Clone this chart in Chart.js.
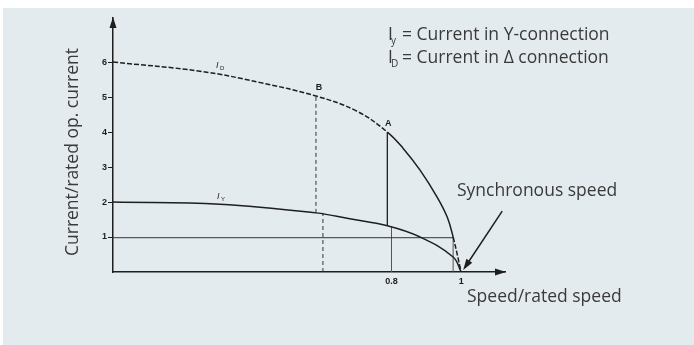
<!DOCTYPE html>
<html>
<head>
<meta charset="utf-8">
<script src="https://cdn.jsdelivr.net/npm/chart.js@4.4.1/dist/chart.umd.min.js"></script>
<style>
  html, body { margin: 0; padding: 0; background: #fff; }
  #wrap { width: 694px; height: 345px; position: relative; }
</style>
</head>
<body>
<div id="wrap"><canvas id="chart" width="694" height="345"></canvas></div>
<script>
// speed/rated speed vs current/rated operating current
const idSpeed   = [0, 0.25, 0.42, 0.583, 0.7, 0.788, 0.833, 0.882, 0.931, 0.96, 0.977, 1.0];
const idCurrent = [6.0, 5.74, 5.42, 5.03, 4.6, 4.0, 3.54, 2.91, 2.14, 1.57, 1.0, 0.0];
const iySpeed   = [0, 0.307, 0.583, 0.68, 0.788, 0.882, 0.977, 1.0];
const iyCurrent = [2.0, 1.94, 1.69, 1.52, 1.32, 1.0, 0.43, 0.0];
const yTicks = [1, 2, 3, 4, 5, 6];
const xTicks = [0.8, 1];
// index where I_D turns solid (point A) and where it turns dashed again
const idxA = 5, idxTail = 10;

// helper lines [x0, y0, x1, y1]
const lineRated  = [0, 0.98, 0.977, 0.98];
const lineSync   = [0.977, 0, 0.977, 1];
const lineA      = [0.788, 1.32, 0.788, 4.0];
const line08     = [0.8, 0, 0.8, 1.29];
const lineB      = [0.583, 1.69, 0.583, 5.03];
const lineB2     = [0.603, 0, 0.603, 1.69];
const syncArrow  = [1.118, 1.74, 1.006, 0.06];

const pts = (xs, ys) => xs.map((x, i) => ({ x: x, y: ys[i] }));
const seg = (l) => [{ x: l[0], y: l[1] }, { x: l[2], y: l[3] }];

const INK = '#1e1e1e';
const TXT = '#3a3a3a';
const SANS = '"Open Sans", "Noto Sans", sans-serif';

function helper(l, dash, color, width) {
  return {
    data: seg(l), borderColor: color, borderWidth: width, borderDash: dash,
    pointRadius: 0, tension: 0, fill: false
  };
}

const bgPlugin = {
  id: 'bg',
  beforeDraw(chart) {
    const c = chart.ctx;
    c.save();
    c.fillStyle = '#ffffff';
    c.fillRect(0, 0, chart.width, chart.height);
    c.fillStyle = '#e4ebee';
    c.fillRect(3, 8, chart.width - 3, chart.height - 8);
    c.restore();
  }
};

const decoPlugin = {
  id: 'deco',
  afterDraw(chart) {
    const c = chart.ctx;
    const xs = chart.scales.x, ys = chart.scales.y;
    const a = chart.chartArea;
    c.save();
    c.fillStyle = INK;
    // axis arrow heads
    c.beginPath();
    c.moveTo(a.left, a.top - 1);
    c.lineTo(a.left - 3.5, a.top + 10);
    c.lineTo(a.left + 3.5, a.top + 10);
    c.closePath();
    c.fill();
    c.beginPath();
    c.moveTo(a.right + 1, a.bottom);
    c.lineTo(a.right - 10, a.bottom - 3.5);
    c.lineTo(a.right - 10, a.bottom + 3.5);
    c.closePath();
    c.fill();

    // synchronous speed arrow
    const x0 = xs.getPixelForValue(syncArrow[0]), y0 = ys.getPixelForValue(syncArrow[1]);
    const x1 = xs.getPixelForValue(syncArrow[2]), y1 = ys.getPixelForValue(syncArrow[3]);
    const ang = Math.atan2(y1 - y0, x1 - x0);
    c.strokeStyle = INK;
    c.lineWidth = 1.5;
    c.beginPath();
    c.moveTo(x0, y0);
    c.lineTo(x1 - 8 * Math.cos(ang), y1 - 8 * Math.sin(ang));
    c.stroke();
    c.beginPath();
    c.moveTo(x1, y1);
    c.lineTo(x1 - 11 * Math.cos(ang) + 3.5 * Math.sin(ang), y1 - 11 * Math.sin(ang) - 3.5 * Math.cos(ang));
    c.lineTo(x1 - 11 * Math.cos(ang) - 3.5 * Math.sin(ang), y1 - 11 * Math.sin(ang) + 3.5 * Math.cos(ang));
    c.closePath();
    c.fill();

    // point labels A, B and curve names
    c.fillStyle = INK;
    c.textAlign = 'center';
    c.textBaseline = 'alphabetic';
    c.font = 'bold 9px "Liberation Sans", Arial, sans-serif';
    c.fillText('B', xs.getPixelForValue(lineB[0]) + 3, ys.getPixelForValue(lineB[3]) - 6);
    c.fillText('A', xs.getPixelForValue(lineA[0]) + 1, ys.getPixelForValue(lineA[3]) - 6);

    function curveName(sub, x, y) {
      c.textAlign = 'left';
      c.font = 'italic 9px "Liberation Sans", Arial, sans-serif';
      c.fillText('I', x, y);
      c.font = '6px "Liberation Sans", Arial, sans-serif';
      c.fillText(sub, x + 4, y + 2);
    }
    curveName('D', 216, 68);
    curveName('Y', 217, 199);

    // texts
    c.fillStyle = TXT;
    c.font = '17.5px ' + SANS;
    c.textAlign = 'left';
    c.fillText('Synchronous speed', 457, 196);
    c.fillText('Speed/rated speed', 467, 302);

    function legendLine(sub, text, y) {
      c.font = '17.5px ' + SANS;
      c.fillText('I', 388, y);
      c.font = '10px ' + SANS;
      c.fillText(sub, 391, y + 4);
      c.font = '17.5px ' + SANS;
      c.fillText(text, 402, y);
    }
    legendLine('y', '= Current in Y-connection', 40);
    legendLine('D', '= Current in \u0394 connection', 63);

    c.translate(78, 152);
    c.rotate(-Math.PI / 2);
    c.textAlign = 'center';
    c.font = '17.5px ' + SANS;
    c.fillText('Current/rated op. current', 0, 0);
    c.restore();
  }
};

const data = {
  datasets: [
    {
      label: 'I_D',
      data: pts(idSpeed, idCurrent),
      borderColor: INK, borderWidth: 1.5, pointRadius: 0, fill: false,
      tension: 0.4,
      segment: {
        borderDash: ctx => (ctx.p0DataIndex < idxA || ctx.p0DataIndex >= idxTail) ? [5, 2] : []
      }
    },
    {
      label: 'I_Y',
      data: pts(iySpeed, iyCurrent),
      borderColor: INK, borderWidth: 1.5, pointRadius: 0, fill: false,
      tension: 0.4
    },
    helper(lineRated, [], '#333', 1),
    helper(lineSync, [], '#555', 1),
    helper(lineA, [], INK, 1.3),
    helper(line08, [], '#555', 1),
    helper(lineB, [4, 3], '#333', 1),
    helper(lineB2, [4, 3], '#333', 1)
  ]
};

const config = {
  type: 'line',
  data: data,
  options: {
    responsive: false,
    animation: false,
    layout: { padding: { left: 0, top: 18, right: 189, bottom: 0 } },
    plugins: { legend: { display: false }, tooltip: { enabled: false } },
    scales: {
      x: {
        type: 'linear', min: 0, max: 1.126,
        afterFit: s => { s.height = 73; },
        afterBuildTicks: s => { s.ticks = xTicks.map(v => ({ value: v })); },
        grid: { drawOnChartArea: false, drawTicks: false },
        border: { display: true, color: INK, width: 1.5 },
        ticks: {
          padding: 4, color: INK, maxRotation: 0,
          font: { family: '"Liberation Sans", Arial, sans-serif', size: 9, weight: 'bold' },
          callback: v => String(v)
        }
      },
      y: {
        type: 'linear', min: 0, max: 7.26,
        afterFit: s => { s.width = 113; },
        afterBuildTicks: s => { s.ticks = yTicks.map(v => ({ value: v })); },
        grid: { drawOnChartArea: false, drawTicks: true, tickLength: 5, color: INK, lineWidth: 1 },
        border: { display: true, color: INK, width: 1.5 },
        ticks: {
          padding: 1, color: INK,
          font: { family: '"Liberation Sans", Arial, sans-serif', size: 9, weight: 'bold' }
        }
      }
    }
  },
  plugins: [bgPlugin, decoPlugin]
};

new Chart(document.getElementById('chart').getContext('2d'), config);
</script>
</body>
</html>
